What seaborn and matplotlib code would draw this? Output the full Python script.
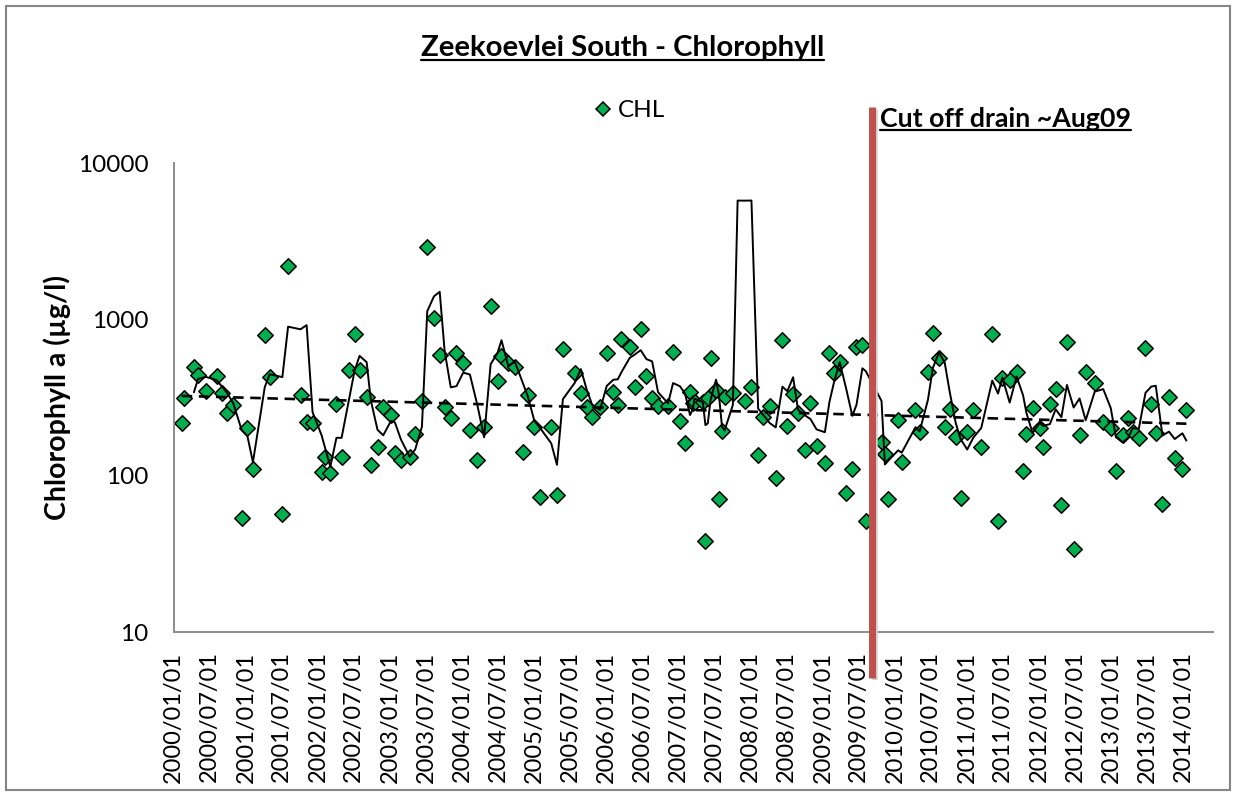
import numpy as np
import pandas as pd
import matplotlib
matplotlib.use('Agg')
import matplotlib.pyplot as plt
import matplotlib.dates as mdates
import matplotlib.transforms as mtransforms
from matplotlib.lines import Line2D
from matplotlib.patches import Rectangle
from matplotlib.ticker import FixedLocator, NullLocator, FuncFormatter
import seaborn as sns

# sample dates and chlorophyll a (ug/l)
# (one sample late 2007 sits above the 10000 axis limit, only the moving average shows it)
sample_dates = [
    '2000-02-10', '2000-02-22', '2000-04-12', '2000-05-03', '2000-06-12', '2000-08-05', '2000-08-30',
    '2000-09-25', '2000-10-28', '2000-12-10', '2001-01-08', '2001-02-05', '2001-04-06', '2001-05-01',
    '2001-07-04', '2001-08-02', '2001-10-04', '2001-11-04', '2001-12-04', '2002-01-19', '2002-02-05',
    '2002-03-04', '2002-04-04', '2002-04-30', '2002-06-05', '2002-07-05', '2002-07-30', '2002-09-04',
    '2002-09-25', '2002-10-29', '2002-11-27', '2003-01-05', '2003-01-25', '2003-02-25', '2003-04-10',
    '2003-05-08', '2003-06-11', '2003-07-08', '2003-08-11', '2003-09-09', '2003-10-04', '2003-11-04',
    '2003-12-03', '2004-01-06', '2004-02-09', '2004-03-18', '2004-04-21', '2004-05-24', '2004-06-28',
    '2004-07-18', '2004-08-21', '2004-09-24', '2004-11-04', '2004-11-28', '2004-12-31', '2005-01-29',
    '2005-03-27', '2005-04-25', '2005-05-25', '2005-07-24', '2005-08-24', '2005-09-22', '2005-10-20',
    '2005-11-29', '2006-01-02', '2006-02-05', '2006-02-27', '2006-03-17', '2006-04-28', '2006-05-23',
    '2006-06-23', '2006-07-22', '2006-08-20', '2006-09-19', '2006-11-09', '2006-12-04', '2007-01-08',
    '2007-02-03', '2007-02-28', '2007-03-14', '2007-03-23', '2007-05-04', '2007-05-17', '2007-05-29',
    '2007-06-12', '2007-07-10', '2007-07-24', '2007-08-09', '2007-08-22', '2007-10-03', '2007-10-27',
    '2007-12-02', '2008-01-05', '2008-02-08', '2008-03-03', '2008-04-07', '2008-05-07', '2008-06-10',
    '2008-07-05', '2008-08-03', '2008-08-28', '2008-10-01', '2008-10-30', '2008-11-30', '2009-01-11',
    '2009-02-03', '2009-02-26', '2009-03-27', '2009-04-30', '2009-05-30', '2009-06-20', '2009-07-20',
    '2009-08-06', '2009-10-25', '2009-11-11', '2009-11-28', '2010-01-17', '2010-02-04', '2010-04-15',
    '2010-05-06', '2010-06-17', '2010-07-12', '2010-08-12', '2010-09-10', '2010-10-05', '2010-11-05',
    '2010-11-29', '2011-01-02', '2011-02-02', '2011-03-14', '2011-05-09', '2011-06-07', '2011-06-29',
    '2011-08-05', '2011-09-09', '2011-10-12', '2011-10-29', '2011-11-29', '2012-01-05', '2012-01-21',
    '2012-02-25', '2012-03-25', '2012-04-23', '2012-05-21', '2012-06-24', '2012-07-24', '2012-08-24',
    '2012-10-09', '2012-11-21', '2012-12-29', '2013-01-24', '2013-02-27', '2013-03-26', '2013-04-20',
    '2013-05-20', '2013-06-23', '2013-07-22', '2013-08-14', '2013-09-17', '2013-10-20', '2013-11-18',
    '2013-12-27', '2014-01-16',
]
chl = [
    218, 313, 494, 441, 350, 434, 340,
    251, 283, 54, 201, 111, 795, 430,
    57, 2207, 328, 221, 216, 106, 132,
    104, 288, 132, 475, 803, 475, 320,
    117, 153, 274, 245, 139, 126, 131,
    185, 302, 2897, 1014, 592, 277, 233,
    612, 524, 196, 126, 206, 1218, 405,
    583, 524, 498, 142, 328, 206, 73,
    204, 75, 647, 456, 340, 277, 236,
    277, 612, 345, 283, 746, 669, 368,
    869, 434, 313, 279, 279, 616, 225,
    163, 345, 291, 297, 297, 38, 313,
    569, 352, 71, 194, 320, 337, 16600,
    302, 368, 136, 236, 279, 96, 738,
    208, 333, 253, 145, 293, 155, 121,
    612, 452, 536, 78, 110, 663, 686,
    51, 165, 138, 71, 227, 123, 263,
    190, 463, 815, 564, 206, 266, 178,
    72, 191, 263, 152, 803, 51, 420,
    410, 463, 107, 185, 270, 201, 153,
    288, 357, 65, 720, 34, 182, 463,
    390, 221, 201, 107, 182, 233, 191,
    173, 653, 288, 188, 66, 320, 129,
    111, 263,
]

drain_cutoff = '2009-09-05'
x_range = ['2000-01-01', '2014-05-31']
y_ticks = [10, 100, 1000, 10000]

sns.set_style('white')
plt.rcParams['font.family'] = ['Lato', 'DejaVu Sans']
plt.rcParams.update({'text.color': 'black', 'axes.labelcolor': 'black',
                     'xtick.color': 'black', 'ytick.color': 'black'})

df = pd.DataFrame({'date': pd.to_datetime(sample_dates), 'chl': chl})
# 3 period moving average and exponential trend, as Excel draws them
df['ma'] = df['chl'].rolling(3).mean()
days = (df['date'] - df['date'].iloc[0]).dt.days.to_numpy()
slope, icpt = np.polyfit(days, np.log(df['chl']), 1)
df['trend'] = np.exp(icpt + slope * days)

fig = plt.figure(figsize=(12.35, 7.93), dpi=100)
ax = fig.add_axes([0.1407, 0.2030, 0.8415, 0.5914])

sns.scatterplot(data=df, x='date', y='chl', marker='D', s=62, color='#00B050',
                edgecolor='black', linewidth=1.1, ax=ax, zorder=2, legend=False)
sns.lineplot(data=df.dropna(subset=['ma']), x='date', y='ma', color='black', lw=1.4,
             errorbar=None, ax=ax, zorder=3)
sns.lineplot(data=df, x='date', y='trend', color='black', lw=1.9, linestyle=(0, (4, 2.5)),
             errorbar=None, ax=ax, zorder=3)

ax.set_yscale('log')
ax.set_ylim(10, 10000)
ax.yaxis.set_major_locator(FixedLocator(y_ticks))
ax.yaxis.set_minor_locator(NullLocator())
ax.yaxis.set_major_formatter(FuncFormatter(lambda v, p: f'{v:g}'))
ax.set_xlim(pd.Timestamp(x_range[0]), pd.Timestamp(x_range[1]))
ax.xaxis.set_major_locator(mdates.MonthLocator(bymonth=[1, 7]))
ax.xaxis.set_major_formatter(mdates.DateFormatter('%Y/%m/%d'))

ax.tick_params(axis='x', direction='in', length=7, width=1.2, color='#8c8c8c',
               labelcolor='black', labelrotation=90, labelsize=17, pad=14)
ax.tick_params(axis='y', length=0, labelcolor='black', labelsize=17.5, pad=18)
for s in ['top', 'right']:
    ax.spines[s].set_visible(False)
for s in ['left', 'bottom']:
    ax.spines[s].set_color('#8c8c8c')
    ax.spines[s].set_linewidth(1.4)

ax.set_xlabel('')
ax.set_ylabel('Chlorophyll a (µg/l)', fontsize=20.5, fontweight='bold', color='black')
ax.yaxis.set_label_coords(-0.099, 0.5)

# red marker line for the drain cut off (runs past the plot area)
cut = pd.Timestamp(drain_cutoff)
trans = mtransforms.blended_transform_factory(ax.transData, ax.transAxes)
shadow = mtransforms.offset_copy(trans, fig=fig, x=3, y=-2, units='dots')
ax.plot([cut, cut], [-0.098, 1.120], transform=shadow, color='#d0d0d0', lw=4,
        clip_on=False, solid_capstyle='butt', zorder=4)
ax.plot([cut, cut], [-0.098, 1.120], transform=trans, color='#C0504D', lw=5,
        clip_on=False, solid_capstyle='butt', zorder=5)

handle = Line2D([], [], marker='D', ls='', ms=7.6, mfc='#00B050', mec='black', mew=1.1)
ax.legend(handles=[handle], labels=['CHL'], loc='center', frameon=False, fontsize=17.5,
          bbox_to_anchor=(0.437, 1.111), handletextpad=0.1, handlelength=1.0)

title = fig.text(622.5 / 1235, 1 - 48 / 793, 'Zeekoevlei South - Chlorophyll',
                 ha='center', va='center', fontsize=21.2, fontweight='bold', color='black')
note = fig.text(879.5 / 1235, 1 - 119 / 793, 'Cut off drain ~Aug09',
                ha='left', va='center', fontsize=19.3, fontweight='bold', color='black')

# chart border
fig.add_artist(Rectangle((5.5 / 1235, 1 - 790 / 793), 1224 / 1235, 784 / 793,
                         transform=fig.transFigure, fill=False, edgecolor='#868686', lw=1.5))


def underline(txt, gap=1.5, lw=1.6):
    fig.canvas.draw()
    bb = txt.get_window_extent(fig.canvas.get_renderer())
    pts = fig.transFigure.inverted().transform([(bb.x0, bb.y0 + gap), (bb.x1, bb.y0 + gap)])
    fig.add_artist(Line2D(pts[:, 0], pts[:, 1], transform=fig.transFigure, color='black', lw=lw))


underline(title)
underline(note)

fig.savefig('out.png', dpi=100)
